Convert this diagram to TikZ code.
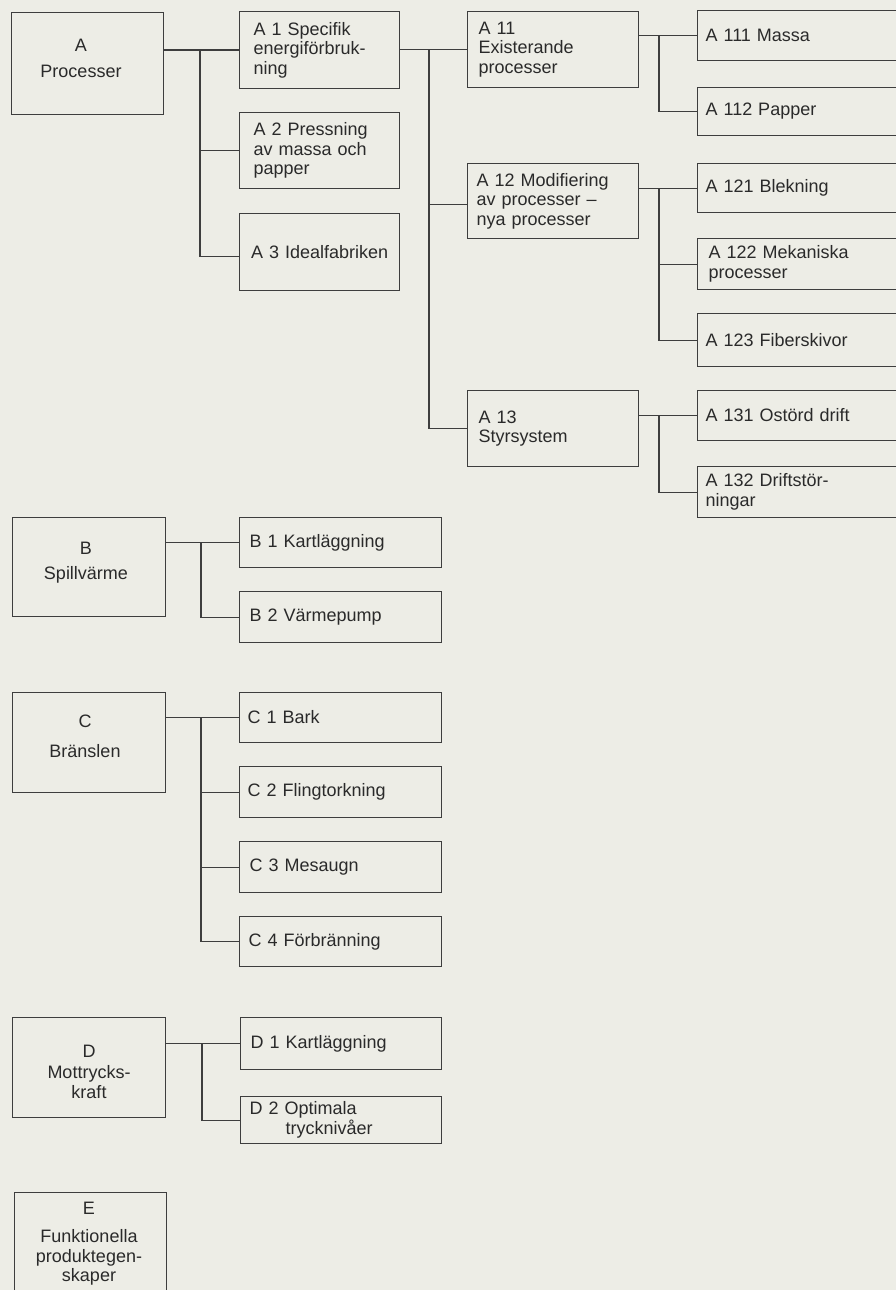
\documentclass[tikz,border=0pt]{standalone}
\usepackage{fontspec}
\setmainfont{Liberation Sans}
\definecolor{bgcol}{HTML}{EDEDE6}
\definecolor{linecol}{HTML}{3E3E3E}
\definecolor{textcol}{HTML}{2A2A2A}
\newcommand\boxfont{\fontsize{18}{19.5}\selectfont}
\tikzset{
  box/.style={draw=linecol, line width=1.1pt, rectangle, anchor=north west,
    align=left, inner ysep=0pt, font=\boxfont, text=textcol},
  topbox/.style={draw=linecol, line width=1.1pt, rectangle, anchor=north west},
  toptext/.style={align=center, font=\boxfont, text=textcol, inner sep=0pt},
  conn/.style={draw=linecol, line width=1.1pt}
}
\begin{document}
\begin{tikzpicture}[x=1pt,y=-1pt]
\useasboundingbox (0,0) rectangle (896,1290);
\fill[bgcol] (0,0) rectangle (896,1290);
\clip (0,0) rectangle (896,1290);

% top-level boxes
\node[topbox, minimum width=152pt, minimum height=102pt] (A) at (11,12) {};
\node[topbox, minimum width=153pt, minimum height=99pt] (B) at (12,517) {};
\node[topbox, minimum width=153pt, minimum height=100pt] (C) at (12,692) {};
\node[topbox, minimum width=153pt, minimum height=100pt] (D) at (12,1017) {};
\node[topbox, minimum width=152pt, minimum height=120pt] (E) at (14,1192) {};

\node[toptext] (At) at (81,58) {A\\[6.5pt]Processer};
\node[toptext] (Bt) at (86,563) {B\\[5.5pt]Spillvärme};
\node[toptext] (Ct) at (85,736) {C\\[10.5pt]Bränslen};
\node[toptext] (Dt) at (89,1072) {D\\[1.5pt]Mottrycks-\\kraft};
\node[toptext] (Et) at (89,1244) {E\\[8.5pt]Funktionella\\produktegen-\\skaper};

% A column
\node[box, minimum width=160pt, minimum height=77pt, inner xsep=14pt, text width=132pt] (A1) at (239,11) {A 1 Specifik\\energiförbruk-\\ning};
\node[box, minimum width=160pt, minimum height=76pt, inner xsep=14pt, text width=132pt] (A2) at (239,112) {A 2 Pressning\\av massa och\\papper};
\node[box, minimum width=160pt, minimum height=77pt, inner xsep=10pt, text width=140pt, align=center] (A3) at (239,213) {A 3 Idealfabriken};

\node[box, minimum width=171pt, minimum height=76pt, inner xsep=11pt, text width=149pt] (A11) at (467,11) {A 11\\Existerande\\processer};
\node[box, minimum width=171pt, minimum height=75pt, inner xsep=9pt, text width=153pt] (A12) at (467,163) {A 12 Modifiering\\av processer --\\nya processer};
\node[box, minimum width=171pt, minimum height=76pt, inner xsep=11pt, text width=149pt] (A13) at (467,390) {A 13\\Styrsystem};

\node[box, minimum width=220pt, minimum height=50pt, inner xsep=8pt, text width=204pt] (A111) at (697,10) {A 111 Massa};
\node[box, minimum width=220pt, minimum height=48pt, inner xsep=8pt, text width=204pt] (A112) at (697,87) {A 112 Papper};
\node[box, minimum width=220pt, minimum height=49pt, inner xsep=8pt, text width=204pt] (A121) at (697,163) {A 121 Blekning};
\node[box, minimum width=220pt, minimum height=51pt, inner xsep=11pt, text width=198pt] (A122) at (697,238) {A 122 Mekaniska\\processer};
\node[box, minimum width=220pt, minimum height=53pt, inner xsep=8pt, text width=204pt] (A123) at (697,313) {A 123 Fiberskivor};
\node[box, minimum width=220pt, minimum height=50pt, inner xsep=8pt, text width=204pt] (A131) at (697,390) {A 131 Ostörd drift};
\node[box, minimum width=220pt, minimum height=51pt, inner xsep=8pt, text width=204pt] (A132) at (697,466) {A 132 Driftstör-\\ningar};

% B, C, D columns
\node[box, minimum width=202pt, minimum height=50pt, inner xsep=10pt, text width=182pt] (B1) at (239,517) {B 1 Kartläggning};
\node[box, minimum width=202pt, minimum height=51pt, inner xsep=10pt, text width=182pt] (B2) at (239,591) {B 2 Värmepump};

\node[box, minimum width=202pt, minimum height=50pt, inner xsep=8pt, text width=186pt] (C1) at (239,692) {C 1 Bark};
\node[box, minimum width=202pt, minimum height=51pt, inner xsep=8pt, text width=186pt] (C2) at (239,766) {C 2 Flingtorkning};
\node[box, minimum width=202pt, minimum height=51pt, inner xsep=10pt, text width=182pt] (C3) at (239,841) {C 3 Mesaugn};
\node[box, minimum width=202pt, minimum height=50pt, inner xsep=9pt, text width=184pt] (C4) at (239,916) {C 4 Förbränning};

\node[box, minimum width=201pt, minimum height=52pt, inner xsep=10pt, text width=181pt] (D1) at (240,1017) {D 1 Kartläggning};
\node[box, minimum width=201pt, minimum height=47pt, inner xsep=9pt, text width=183pt] (D2) at (240,1096) {D 2 Optimala\\\hspace*{36pt}trycknivåer};

% bus coordinates
\coordinate (busA) at (200,0);
\coordinate (busA1) at (429,0);
\coordinate (busA11) at (659,0);
\coordinate (busB) at (201,0);
\coordinate (busD) at (202,0);
\coordinate (A3in) at ([yshift=-4pt]A3.west);
\coordinate (A12in) at ([yshift=-3pt]A12.west);

% connectors A
\draw[conn] (A.east |- A1.west) -- (A1.west);
\draw[conn] (busA |- A1.west) |- (A3in);
\draw[conn] (busA |- A2.west) -- (A2.west);

\draw[conn] (A1.east |- A11.west) -- (A11.west);
\draw[conn] (busA1 |- A11.west) |- (A13.west);
\draw[conn] (busA1 |- A12in) -- (A12in);

\draw[conn] (A11.east |- A111.west) -- (A111.west);
\draw[conn] (busA11 |- A111.west) |- (A112.west);

\draw[conn] (A12.east |- A121.west) -- (A121.west);
\draw[conn] (busA11 |- A121.west) |- (A123.west);
\draw[conn] (busA11 |- A122.west) -- (A122.west);

\draw[conn] (A13.east |- A131.west) -- (A131.west);
\draw[conn] (busA11 |- A131.west) |- (A132.west);

% connectors B, C, D
\draw[conn] (B.east |- B1.west) -- (B1.west);
\draw[conn] (busB |- B1.west) |- (B2.west);

\draw[conn] (C.east |- C1.west) -- (C1.west);
\draw[conn] (busB |- C1.west) |- (C4.west);
\draw[conn] (busB |- C2.west) -- (C2.west);
\draw[conn] (busB |- C3.west) -- (C3.west);

\draw[conn] (D.east |- D1.west) -- (D1.west);
\draw[conn] (busD |- D1.west) |- (D2.west);
\end{tikzpicture}
\end{document}
